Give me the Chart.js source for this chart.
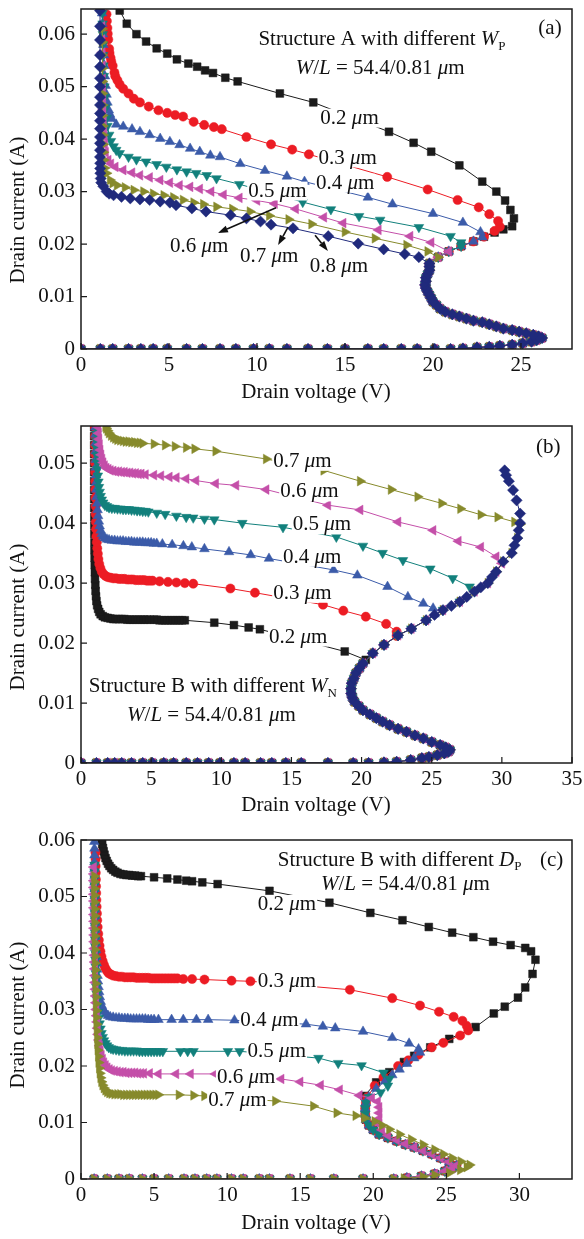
<!DOCTYPE html>
<html>
<head>
<meta charset="utf-8">
<script src="https://cdn.jsdelivr.net/npm/chart.js@4.4.0/dist/chart.umd.min.js"></script>
<style>
  html, body { margin: 0; padding: 0; background: #fff; }
  canvas { position: absolute; left: 0; }
</style>
</head>
<body>
<canvas id="panelA" width="584" height="410" style="top:0"></canvas>
<canvas id="panelB" width="584" height="410" style="top:410px"></canvas>
<canvas id="panelC" width="584" height="419" style="top:820px"></canvas>
<script>
// ---- panel (a): Structure A, different W_P  (points are [V, A], in measurement order)
const offA = [[0,0],[1.1,0],[1.8,0],[2.7,0],[3.4,0],[4.1,0],[4.9,0],[6.0,0],[6.9,0],[7.9,0],[8.8,0],[9.8,0],[10.7,0],[11.7,0],[12.9,0],[14.0,0],[15.0,0],[16.3,0],[17.2,0],[18.2,0],[19.1,0],[20.1,0],[21.0,0],[21.7,0.0001]];
const snapA = [[22.5,0.0003],[23.2,0.0004],[23.8,0.0006],[24.5,0.0008],[25.1,0.0011],[25.6,0.0014],[25.9,0.0017],[26.2,0.0021],[26.0,0.0024],[25.7,0.0027],[25.3,0.003],[24.9,0.0033],[24.5,0.0036],[24.0,0.0039],[23.6,0.0043],[23.2,0.0047],[22.8,0.0051],[22.3,0.0054],[21.9,0.0058],[21.5,0.0062],[21.1,0.0066],[20.7,0.0071],[20.4,0.0077],[20.2,0.0084],[20.0,0.009],[19.9,0.0097],[19.8,0.0103],[19.7,0.0109],[19.6,0.0116],[19.55,0.0122],[19.6,0.0129],[19.6,0.0136],[19.7,0.0143],[19.8,0.015],[19.8,0.0157],[19.8,0.0163]];
const a02 = [[20.3,0.0175],[20.9,0.0186],[21.6,0.0196],[22.3,0.0205],[22.9,0.0214],[23.5,0.0222],[24.0,0.0228],[24.5,0.0234],[24.6,0.0249],[24.4,0.0265],[24.1,0.0283],[23.6,0.03],[22.8,0.0319],[21.5,0.035],[19.9,0.0376],[18.9,0.0393],[17.5,0.0414],[13.2,0.047],[11.3,0.0487],[8.9,0.051],[8.2,0.0517],[7.5,0.0526],[7.05,0.0531],[6.6,0.0538],[6.1,0.0544],[5.45,0.0552],[4.9,0.0563],[4.3,0.0573],[3.7,0.0586],[3.15,0.06],[2.6,0.062],[2.2,0.0645]];
const a03 = [[20.3,0.0175],[20.9,0.0186],[21.6,0.0196],[22.3,0.0205],[22.9,0.0214],[23.5,0.0225],[23.8,0.0233],[23.7,0.0244],[23.2,0.0257],[22.6,0.027],[21.4,0.0284],[19.7,0.0304],[17.4,0.0328],[12.95,0.0371],[12.0,0.038],[10.8,0.039],[9.4,0.0404],[8.0,0.0419],[7.55,0.0423],[7.0,0.0427],[6.4,0.0433],[5.8,0.0443],[5.35,0.0446],[4.9,0.045],[4.4,0.0455],[3.85,0.0462],[3.35,0.047],[3.0,0.0477],[2.7,0.0487],[2.4,0.0496],[2.2,0.0504],[2.07,0.0512],[1.95,0.052],[1.9,0.0527],[1.8,0.054],[1.72,0.0548],[1.68,0.0555],[1.62,0.0564],[1.6,0.0572],[1.55,0.059],[1.52,0.0601],[1.5,0.0612],[1.47,0.0625],[1.45,0.0638]];
const a04 = [[20.3,0.0175],[20.9,0.0186],[21.6,0.0196],[22.3,0.0205],[22.8,0.0213],[22.7,0.0223],[21.7,0.0241],[20.0,0.0258],[17.7,0.0276],[16.3,0.0289],[12.7,0.0319],[11.7,0.0329],[10.45,0.034],[9.05,0.0353],[7.9,0.0366],[7.35,0.0369],[6.75,0.0376],[6.2,0.0382],[5.6,0.0389],[5.05,0.0395],[4.5,0.0401],[3.9,0.0408],[3.35,0.0414],[2.9,0.0419],[2.4,0.0424],[2.0,0.0428],[1.75,0.0439],[1.65,0.0447],[1.58,0.0455],[1.5,0.047],[1.45,0.0485],[1.4,0.0502],[1.36,0.052],[1.33,0.054],[1.3,0.056],[1.27,0.058],[1.25,0.06],[1.22,0.062],[1.2,0.064]];
const a05 = [[20.3,0.0175],[20.9,0.0186],[21.6,0.0196],[21.6,0.0203],[21.0,0.0215],[19.2,0.0232],[17.0,0.0246],[15.8,0.0253],[14.2,0.0266],[12.6,0.028],[9.0,0.0314],[7.7,0.0325],[7.15,0.0331],[6.55,0.0335],[6.0,0.0338],[5.45,0.0342],[4.85,0.0347],[4.3,0.0352],[3.7,0.0357],[3.15,0.0361],[2.7,0.0366],[2.2,0.0373],[2.0,0.0379],[1.85,0.0386],[1.7,0.0396],[1.6,0.0408],[1.5,0.0425],[1.45,0.044],[1.4,0.046],[1.36,0.048],[1.33,0.05],[1.3,0.052],[1.28,0.054],[1.26,0.056],[1.25,0.058],[1.24,0.06],[1.23,0.062],[1.22,0.064]];
const a06 = [[20.3,0.0175],[20.9,0.0186],[19.9,0.0203],[18.7,0.0215],[16.9,0.0227],[14.9,0.024],[13.8,0.0251],[12.2,0.0267],[11.0,0.0277],[10.0,0.0283],[9.0,0.0288],[8.1,0.0294],[7.4,0.03],[6.75,0.0305],[6.2,0.0309],[5.6,0.0312],[5.05,0.0317],[4.5,0.0322],[3.9,0.0327],[3.35,0.0331],[2.9,0.0336],[2.4,0.0341],[1.95,0.0347],[1.7,0.0353],[1.55,0.036],[1.4,0.0375],[1.35,0.039],[1.32,0.0405],[1.3,0.042],[1.28,0.0438],[1.26,0.0456],[1.25,0.0475],[1.24,0.0495],[1.23,0.0515],[1.22,0.054],[1.21,0.0565],[1.2,0.059],[1.2,0.0615]];
const a07 = [[20.3,0.0175],[19.7,0.0186],[18.5,0.0198],[16.7,0.0211],[15.0,0.0223],[13.1,0.0238],[11.8,0.0247],[10.7,0.0254],[9.6,0.0262],[8.6,0.0267],[7.7,0.0271],[6.95,0.0276],[6.4,0.0279],[5.8,0.0284],[5.25,0.0289],[4.7,0.0293],[4.1,0.0296],[3.55,0.03],[3.0,0.0303],[2.5,0.0308],[2.05,0.0312],[1.8,0.0316],[1.65,0.0322],[1.45,0.0335],[1.35,0.0345],[1.3,0.036],[1.28,0.0375],[1.26,0.039],[1.25,0.0408],[1.24,0.0425],[1.23,0.0445],[1.23,0.0465],[1.22,0.0487],[1.22,0.051],[1.21,0.0535],[1.21,0.056],[1.2,0.0585],[1.2,0.061]];
const a08 = [[19.2,0.0175],[18.4,0.0181],[17.2,0.019],[15.75,0.0201],[14.05,0.0215],[12.05,0.023],[10.8,0.0237],[10.2,0.0243],[9.4,0.0249],[8.5,0.0255],[7.1,0.0262],[6.3,0.0268],[5.4,0.0274],[5.05,0.0279],[4.5,0.0281],[3.9,0.0284],[3.35,0.0285],[2.8,0.0287],[2.3,0.029],[1.85,0.0293],[1.6,0.0296],[1.46,0.03],[1.27,0.031],[1.15,0.0317],[1.12,0.0325],[1.1,0.0335],[1.09,0.0344],[1.09,0.0354],[1.08,0.0366],[1.08,0.0379],[1.08,0.0392],[1.08,0.0404],[1.08,0.042],[1.08,0.0435],[1.08,0.0449],[1.08,0.0465],[1.08,0.048],[1.08,0.05],[1.08,0.0516],[1.08,0.0538],[1.08,0.056],[1.08,0.0589],[1.08,0.0615],[1.08,0.0645]];

// ---- panel (b): Structure B, different W_N
const offB = [[0,0],[1.1,0],[1.9,0],[2.4,0],[2.9,0],[3.6,0],[4.4,0],[5.1,0],[5.9,0],[6.6,0],[7.5,0],[8.3,0],[9.1,0],[9.9,0],[10.9,0],[11.7,0],[12.8,0],[13.6,0],[14.6,0],[15.7,0],[17.6,0],[19.4,0],[20.5,0],[21.6,0.0001]];
const snapB = [[22.5,0.0002],[23.5,0.0005],[24.3,0.0008],[24.8,0.001],[25.4,0.0013],[25.9,0.0016],[26.2,0.0019],[26.3,0.0022],[26.0,0.0026],[25.6,0.003],[25.0,0.0035],[24.4,0.0041],[23.8,0.0046],[23.2,0.0052],[22.6,0.0057],[22.0,0.0063],[21.5,0.0069],[21.05,0.0075],[20.6,0.0081],[20.1,0.0088],[19.8,0.0095],[19.5,0.0102],[19.35,0.0109],[19.26,0.0116],[19.25,0.0124],[19.3,0.0133],[19.45,0.0141],[19.6,0.015],[19.85,0.0158],[20.1,0.0166]];
const b02 = [[20.3,0.0172],[18.8,0.0186],[12.75,0.0223],[11.95,0.0226],[10.9,0.023],[9.5,0.0234],[7.4,0.0238],[7.2,0.0238],[7.0,0.0238],[6.8,0.0238],[6.6,0.0238],[6.4,0.0238],[6.2,0.0238],[6.0,0.0238],[5.8,0.0238],[5.6,0.0238],[5.4,0.0239],[5.2,0.0239],[4.9,0.0239],[4.7,0.0239],[4.5,0.0239],[4.3,0.0239],[4.1,0.0239],[3.9,0.0239],[3.7,0.0239],[3.5,0.0239],[3.3,0.0239],[3.1,0.024],[2.9,0.024],[2.7,0.024],[2.5,0.024],[2.3,0.024],[2.1,0.0241],[1.9,0.0242],[1.7,0.0243],[1.55,0.0245],[1.4,0.0248],[1.3,0.0252],[1.22,0.0257],[1.15,0.0263],[1.1,0.027],[1.07,0.0278],[1.04,0.0287],[1.02,0.0297],[1.0,0.0307],[0.99,0.0318],[0.98,0.033],[0.97,0.0342],[0.96,0.0355],[0.96,0.0368],[0.95,0.0382],[0.95,0.0396],[0.95,0.041],[0.94,0.0425],[0.94,0.044],[0.94,0.0455],[0.94,0.047],[0.94,0.0485],[0.94,0.05],[0.94,0.0515],[0.94,0.053],[0.94,0.0545],[0.94,0.056]];
const b03 = [[20.8,0.0183],[21.6,0.0197],[22.5,0.0212],[22.5,0.0219],[21.75,0.0232],[20.3,0.0244],[18.7,0.0254],[17.25,0.0264],[12.4,0.0284],[10.65,0.0291],[8.0,0.0299],[7.4,0.03],[6.8,0.0301],[6.2,0.0302],[5.6,0.0303],[5.1,0.0304],[4.9,0.0304],[4.7,0.0304],[4.5,0.0305],[4.3,0.0305],[4.1,0.0305],[3.9,0.0305],[3.7,0.0306],[3.5,0.0306],[3.3,0.0306],[3.1,0.0307],[2.9,0.0307],[2.7,0.0307],[2.5,0.0308],[2.3,0.0308],[2.1,0.0309],[1.9,0.031],[1.75,0.0312],[1.6,0.0315],[1.48,0.0319],[1.38,0.0325],[1.3,0.0332],[1.24,0.034],[1.2,0.0349],[1.16,0.0358],[1.13,0.0368],[1.1,0.0378],[1.08,0.039],[1.06,0.0402],[1.05,0.0415],[1.04,0.0428],[1.03,0.0442],[1.02,0.0456],[1.02,0.047],[1.01,0.0485],[1.01,0.05],[1.0,0.0515],[1.0,0.053],[1.0,0.0545],[1.0,0.056]];
const b04 = [[20.8,0.0183],[21.6,0.0197],[22.6,0.0213],[23.55,0.0224],[24.6,0.0238],[25.2,0.0248],[25.1,0.0258],[24.4,0.0266],[23.3,0.0277],[21.85,0.0294],[19.7,0.0313],[18.0,0.0322],[13.4,0.0341],[12.1,0.0347],[10.55,0.0352],[8.8,0.0357],[7.9,0.036],[7.3,0.0362],[6.5,0.0364],[5.8,0.0365],[5.4,0.0366],[5.2,0.0366],[5.0,0.0367],[4.8,0.0367],[4.6,0.0367],[4.4,0.0368],[4.2,0.0368],[4.0,0.0368],[3.8,0.0368],[3.6,0.0369],[3.4,0.0369],[3.2,0.0369],[3.0,0.037],[2.8,0.037],[2.6,0.037],[2.4,0.0371],[2.2,0.0371],[2.0,0.0372],[1.85,0.0373],[1.7,0.0375],[1.58,0.0378],[1.48,0.0382],[1.4,0.0388],[1.33,0.0395],[1.27,0.0403],[1.22,0.0412],[1.18,0.0422],[1.15,0.0433],[1.12,0.0444],[1.1,0.0456],[1.08,0.0468],[1.07,0.048],[1.06,0.0493],[1.05,0.0506],[1.04,0.052],[1.04,0.0534],[1.03,0.0548],[1.03,0.056]];
const b05 = [[20.8,0.0183],[21.6,0.0197],[22.6,0.0213],[23.55,0.0224],[24.6,0.0238],[25.8,0.0255],[27.0,0.0269],[28.05,0.0286],[27.7,0.0294],[26.5,0.0308],[24.9,0.0324],[22.95,0.0338],[21.5,0.035],[20.1,0.0362],[18.2,0.0377],[14.4,0.0393],[11.5,0.04],[9.5,0.0406],[8.8,0.0407],[8.0,0.0409],[7.5,0.041],[6.8,0.0412],[6.0,0.0415],[5.4,0.0417],[4.8,0.0419],[4.6,0.042],[4.4,0.042],[4.2,0.0421],[4.0,0.0421],[3.8,0.0422],[3.6,0.0422],[3.4,0.0423],[3.2,0.0423],[3.0,0.0423],[2.8,0.0424],[2.6,0.0424],[2.4,0.0425],[2.2,0.0425],[2.0,0.0426],[1.85,0.0428],[1.7,0.043],[1.58,0.0434],[1.48,0.0439],[1.4,0.0445],[1.33,0.0452],[1.28,0.046],[1.24,0.0469],[1.2,0.0479],[1.17,0.049],[1.15,0.0501],[1.13,0.0513],[1.12,0.0525],[1.11,0.0537],[1.1,0.0549],[1.1,0.056]];
const b06 = [[20.8,0.0183],[21.6,0.0197],[22.6,0.0213],[23.55,0.0224],[24.6,0.0238],[25.8,0.0255],[27.0,0.0269],[28.05,0.0286],[29.0,0.03],[29.6,0.0319],[30.0,0.0333],[29.6,0.0344],[28.5,0.036],[26.9,0.037],[25.1,0.0388],[22.6,0.0402],[19.9,0.0422],[17.6,0.043],[13.2,0.0456],[11.05,0.0463],[9.6,0.0466],[8.2,0.0471],[7.5,0.0474],[6.8,0.0476],[6.3,0.0477],[5.7,0.0479],[5.2,0.048],[4.6,0.0481],[4.3,0.0482],[4.1,0.0482],[3.9,0.0483],[3.7,0.0483],[3.5,0.0484],[3.3,0.0484],[3.1,0.0485],[2.9,0.0485],[2.7,0.0486],[2.5,0.0486],[2.3,0.0487],[2.1,0.0488],[1.95,0.049],[1.8,0.0492],[1.68,0.0496],[1.58,0.0501],[1.5,0.0507],[1.43,0.0514],[1.37,0.0522],[1.32,0.0531],[1.28,0.054],[1.25,0.055],[1.22,0.056]];
const b07 = [[20.8,0.0183],[21.6,0.0197],[22.6,0.0213],[23.55,0.0224],[24.6,0.0238],[25.8,0.0255],[27.0,0.0269],[28.05,0.0286],[29.0,0.03],[29.6,0.0319],[30.1,0.0336],[30.7,0.035],[31.1,0.0375],[31.3,0.0398],[30.9,0.0402],[29.7,0.041],[28.5,0.0414],[27.05,0.0424],[25.7,0.0433],[24.0,0.0444],[22.1,0.0456],[19.9,0.047],[17.3,0.0488],[13.2,0.0507],[9.6,0.052],[8.1,0.0524],[7.5,0.0526],[6.7,0.0528],[6.0,0.053],[5.2,0.0532],[4.4,0.0533],[4.2,0.0534],[4.0,0.0534],[3.8,0.0535],[3.6,0.0535],[3.4,0.0536],[3.2,0.0536],[3.0,0.0537],[2.8,0.0538],[2.6,0.0539],[2.45,0.0541],[2.3,0.0543],[2.15,0.0546],[2.0,0.055],[1.9,0.0554],[1.8,0.0558],[1.75,0.0561]];
const b08 = [[20.8,0.0183],[21.6,0.0197],[22.6,0.0213],[23.55,0.0224],[24.6,0.0238],[25.2,0.0247],[25.8,0.0255],[26.4,0.0262],[27.0,0.0269],[27.5,0.0277],[28.05,0.0286],[28.5,0.0293],[29.0,0.03],[29.3,0.031],[29.6,0.0319],[30.1,0.0336],[30.7,0.035],[30.9,0.0363],[31.1,0.0375],[31.2,0.0388],[31.3,0.04],[31.3,0.0416],[31.05,0.0438],[30.8,0.0455],[30.5,0.047],[30.3,0.048],[30.2,0.0488]];

// ---- panel (c): Structure B, different D_P
const offC = [[0.9,0],[1.8,0],[2.6,0],[3.3,0],[4.2,0],[5.0,0],[6.0,0],[7.05,0],[7.8,0],[8.6,0],[9.3,0],[10.3,0],[11.1,0],[12.2,0],[12.9,0],[14.3,0],[15.7,0],[17.3,0],[19.3,0],[21.4,0]];
const snapC = [[22.3,0.0002],[23.3,0.0005],[24.2,0.0009],[24.9,0.0014],[25.4,0.0019],[25.7,0.0024],[25.2,0.003],[24.6,0.0037],[24.0,0.0044],[23.4,0.005],[22.8,0.0056],[22.2,0.0061],[21.6,0.0067],[21.0,0.0073],[20.4,0.0079],[20.0,0.0087],[19.7,0.0095],[19.5,0.0105],[19.45,0.0115],[19.45,0.0125],[19.5,0.0135]];
const c02 = [[19.4,0.0147],[20.2,0.0171],[21.1,0.0189],[22.1,0.0207],[22.8,0.0218],[23.9,0.0233],[25.2,0.0248],[27.0,0.0269],[28.25,0.0293],[29.0,0.0305],[29.9,0.0321],[30.4,0.0339],[30.9,0.0363],[31.1,0.0388],[30.8,0.0403],[30.4,0.0409],[29.4,0.0414],[28.2,0.042],[26.85,0.0428],[25.4,0.0436],[23.8,0.0446],[22.0,0.0458],[19.8,0.0471],[17.0,0.0489],[12.9,0.051],[9.35,0.0522],[8.3,0.0525],[7.6,0.0527],[7.2,0.0528],[6.6,0.053],[5.9,0.0532],[5.0,0.0534],[4.1,0.0536],[3.9,0.0536],[3.7,0.0537],[3.5,0.0537],[3.3,0.0538],[3.1,0.0538],[2.9,0.0539],[2.7,0.054],[2.5,0.0542],[2.35,0.0544],[2.2,0.0547],[2.07,0.055],[1.95,0.0554],[1.85,0.0558],[1.76,0.0563],[1.68,0.0568],[1.61,0.0574],[1.55,0.058],[1.5,0.0586],[1.45,0.0593],[1.41,0.06]];
const c03 = [[19.6,0.0145],[20.1,0.0165],[20.7,0.018],[21.7,0.02],[22.4,0.021],[23.1,0.022],[24.0,0.0233],[24.8,0.0241],[25.95,0.0254],[26.5,0.0263],[26.4,0.0271],[26.1,0.028],[25.5,0.0287],[24.5,0.0296],[23.2,0.0307],[21.3,0.032],[18.4,0.0335],[11.6,0.035],[10.3,0.0351],[8.45,0.0353],[7.6,0.0354],[7.0,0.0354],[6.6,0.0355],[6.4,0.0355],[6.2,0.0355],[6.0,0.0355],[5.8,0.0355],[5.6,0.0355],[5.4,0.0355],[5.2,0.0355],[5.0,0.0355],[4.8,0.0355],[4.6,0.0356],[4.4,0.0356],[4.2,0.0356],[4.0,0.0356],[3.8,0.0356],[3.6,0.0357],[3.4,0.0357],[3.2,0.0357],[3.0,0.0357],[2.8,0.0358],[2.6,0.0358],[2.4,0.0359],[2.2,0.036],[2.05,0.0362],[1.9,0.0364],[1.78,0.0368],[1.67,0.0373],[1.57,0.0379],[1.48,0.0386],[1.4,0.0394],[1.33,0.0403],[1.27,0.0413],[1.22,0.0423],[1.18,0.0434],[1.14,0.0446],[1.11,0.0458],[1.09,0.047],[1.07,0.0482],[1.05,0.0494],[1.04,0.0506],[1.03,0.0518],[1.02,0.053],[1.01,0.0542],[1.0,0.0554],[1.0,0.0566],[0.99,0.0578]];
const c04 = [[19.7,0.0145],[20.2,0.016],[20.8,0.0173],[21.3,0.0184],[21.8,0.0194],[22.3,0.0204],[22.8,0.0214],[23.2,0.0224],[23.1,0.023],[22.45,0.024],[21.3,0.025],[19.3,0.0261],[17.4,0.0267],[16.55,0.027],[15.4,0.0274],[10.5,0.0281],[8.7,0.0282],[7.9,0.0282],[7.0,0.0282],[6.2,0.0282],[5.3,0.0282],[5.0,0.0282],[4.8,0.0282],[4.6,0.0282],[4.4,0.0283],[4.2,0.0283],[4.0,0.0283],[3.8,0.0283],[3.6,0.0283],[3.4,0.0283],[3.2,0.0284],[3.0,0.0284],[2.8,0.0284],[2.6,0.0285],[2.4,0.0285],[2.2,0.0286],[2.0,0.0287],[1.85,0.0289],[1.72,0.0292],[1.6,0.0296],[1.5,0.0301],[1.42,0.0307],[1.35,0.0314],[1.29,0.0322],[1.24,0.0331],[1.2,0.034],[1.16,0.035],[1.13,0.036],[1.1,0.0371],[1.08,0.0382],[1.06,0.0393],[1.04,0.0405],[1.02,0.0417],[1.0,0.0429],[0.99,0.0441],[0.98,0.0453],[0.97,0.0465],[0.96,0.0477],[0.95,0.0489],[0.94,0.0501],[0.94,0.0513],[0.93,0.0525],[0.93,0.0537],[0.92,0.0549],[0.92,0.0561],[0.92,0.0573],[0.92,0.0585],[0.91,0.0597]];
const c05 = [[19.7,0.0145],[20.5,0.0153],[21.0,0.0165],[21.1,0.0177],[20.7,0.0188],[19.2,0.0201],[17.6,0.0205],[16.25,0.0214],[10.85,0.0226],[10.05,0.0226],[7.7,0.0226],[7.3,0.0226],[6.8,0.0226],[5.6,0.0226],[5.4,0.0226],[5.2,0.0226],[5.0,0.0226],[4.8,0.0226],[4.6,0.0226],[4.4,0.0226],[4.2,0.0226],[4.0,0.0226],[3.8,0.0227],[3.6,0.0227],[3.4,0.0227],[3.2,0.0227],[3.0,0.0227],[2.8,0.0228],[2.6,0.0228],[2.4,0.0229],[2.2,0.023],[2.05,0.0231],[1.9,0.0233],[1.78,0.0236],[1.67,0.024],[1.57,0.0245],[1.48,0.0251],[1.4,0.0258],[1.33,0.0266],[1.27,0.0275],[1.22,0.0285],[1.17,0.0295],[1.13,0.0306],[1.1,0.0317],[1.07,0.0328],[1.05,0.034],[1.03,0.0352],[1.01,0.0364],[1.0,0.0376],[0.99,0.0388],[0.98,0.04],[0.97,0.0412],[0.96,0.0424],[0.96,0.0436],[0.95,0.0448],[0.95,0.046],[0.94,0.0472],[0.94,0.0484],[0.94,0.0496],[0.93,0.0508],[0.93,0.052],[0.93,0.0532],[0.93,0.0544],[0.93,0.0556]];
const c06 = [[22.3,0.0002],[23.3,0.0005],[24.2,0.0009],[24.9,0.0014],[25.4,0.0019],[25.7,0.0024],[25.2,0.003],[24.6,0.0037],[24.0,0.0044],[23.4,0.005],[22.8,0.0056],[22.2,0.0062],[21.6,0.0069],[21.0,0.0077],[20.6,0.0087],[20.4,0.0097],[20.4,0.0107],[20.4,0.0117],[20.4,0.0127],[20.3,0.0137],[19.9,0.0143],[19.05,0.0148],[17.7,0.0158],[16.4,0.0166],[15.0,0.0172],[13.7,0.0177],[9.2,0.0186],[7.5,0.0186],[6.5,0.0186],[5.3,0.0186],[4.7,0.0187],[4.3,0.0187],[4.1,0.0187],[3.9,0.0187],[3.7,0.0188],[3.5,0.0188],[3.3,0.0188],[3.1,0.0188],[2.9,0.0189],[2.7,0.0189],[2.5,0.019],[2.3,0.0191],[2.1,0.0192],[1.95,0.0194],[1.8,0.0197],[1.68,0.0201],[1.57,0.0206],[1.48,0.0212],[1.4,0.0219],[1.33,0.0227],[1.27,0.0236],[1.22,0.0246],[1.17,0.0256],[1.13,0.0267],[1.1,0.0278],[1.07,0.0289],[1.04,0.03],[1.02,0.0312],[1.0,0.0324],[0.98,0.0336],[0.96,0.0348],[0.95,0.036],[0.94,0.0372],[0.93,0.0384],[0.92,0.0396],[0.91,0.0408],[0.9,0.042],[0.9,0.0432],[0.89,0.0444],[0.89,0.0456],[0.88,0.0468],[0.88,0.048],[0.88,0.0492],[0.87,0.0504],[0.87,0.0516],[0.87,0.0528],[0.87,0.054],[0.87,0.0552]];
const c07 = [[22.1,0.0001],[23.4,0.0004],[24.2,0.0007],[25.2,0.0011],[25.95,0.0016],[26.4,0.0021],[26.6,0.0025],[26.0,0.0031],[25.4,0.0037],[24.8,0.0044],[24.2,0.0052],[23.4,0.0061],[22.6,0.007],[21.8,0.0079],[21.1,0.0088],[20.6,0.0095],[20.1,0.0102],[19.4,0.0108],[18.8,0.0112],[17.5,0.0117],[15.9,0.0129],[13.3,0.0138],[8.45,0.0147],[7.7,0.0148],[6.7,0.0149],[5.3,0.0149],[5.1,0.0149],[4.9,0.0149],[4.7,0.0149],[4.5,0.0149],[4.3,0.0149],[4.1,0.0149],[3.9,0.0149],[3.7,0.0149],[3.5,0.0149],[3.3,0.0149],[3.1,0.0149],[2.9,0.0149],[2.7,0.015],[2.5,0.015],[2.3,0.015],[2.1,0.0151],[1.95,0.0152],[1.8,0.0154],[1.68,0.0157],[1.57,0.0161],[1.48,0.0166],[1.4,0.0172],[1.34,0.0179],[1.29,0.0187],[1.25,0.0196],[1.21,0.0206],[1.18,0.0217],[1.15,0.0228],[1.13,0.0239],[1.11,0.025],[1.09,0.0262],[1.07,0.0274],[1.05,0.0286],[1.04,0.0298],[1.03,0.031],[1.02,0.0322],[1.01,0.0334],[1.0,0.0346],[0.99,0.0358],[0.98,0.037],[0.97,0.0382],[0.96,0.0394],[0.95,0.0406],[0.95,0.0418],[0.94,0.043],[0.94,0.0442],[0.93,0.0454],[0.93,0.0466],[0.93,0.0478],[0.92,0.049],[0.92,0.0502],[0.92,0.0514],[0.92,0.0526],[0.92,0.0536]];

const FAM = '"Liberation Serif", "Times New Roman", serif';
const STYLES = [
  { color: '#1b1b1b', style: 'rect', radius: 5.5, rot: 0 },
  { color: '#ec1c24', style: 'circle', radius: 4.6, rot: 0 },
  { color: '#3b5ba9', style: 'triangle', radius: 5.6, rot: 0 },
  { color: '#12807c', style: 'triangle', radius: 5.6, rot: 180 },
  { color: '#c44fa9', style: 'triangle', radius: 5.6, rot: 270 },
  { color: '#878a2c', style: 'triangle', radius: 5.6, rot: 90 },
  { color: '#202a7c', style: 'rectRot', radius: 5.6, rot: 0 },
];

const um = v => [[v + ' ', 'n'], ['\u03bc', 'i'], ['m', 'n']];
const WL = [['W', 'i'], ['/', 'n'], ['L', 'i'], [' = 54.4/0.81 ', 'n'], ['\u03bc', 'i'], ['m', 'n']];

function drawRich(ctx, segs, x, y, size, align, bg) {
  const fonts = { n: `${size}px ${FAM}`, i: `italic ${size}px ${FAM}`, s: `${Math.round(size * 0.62)}px ${FAM}` };
  const widths = segs.map(([t, s]) => { ctx.font = fonts[s]; return ctx.measureText(t).width; });
  const total = widths.reduce((a, b) => a + b, 0);
  let x0 = align === 'center' ? x - total / 2 : x;
  if (bg) {
    ctx.fillStyle = '#fff';
    ctx.fillRect(x0 - 1, y - size * 0.45, total + 2, size * 0.9);
  }
  ctx.fillStyle = '#111';
  ctx.textAlign = 'left';
  ctx.textBaseline = 'middle';
  segs.forEach(([t, s], i) => {
    ctx.font = fonts[s];
    ctx.fillText(t, x0, s === 's' ? y + size * 0.3 : y);
    x0 += widths[i];
  });
}

function drawArrow(ctx, x1, y1, x2, y2) {
  const a = Math.atan2(y2 - y1, x2 - x1), c = Math.cos(a), s = Math.sin(a);
  const L = 10, W = 3.5;
  ctx.strokeStyle = '#111';
  ctx.fillStyle = '#111';
  ctx.lineWidth = 1.6;
  ctx.beginPath();
  ctx.moveTo(x1, y1);
  ctx.lineTo(x2 - L * c, y2 - L * s);
  ctx.stroke();
  ctx.beginPath();
  ctx.moveTo(x2, y2);
  ctx.lineTo(x2 - L * c + W * s, y2 - L * s - W * c);
  ctx.lineTo(x2 - L * c - W * s, y2 - L * s + W * c);
  ctx.closePath();
  ctx.fill();
}

const decor = {
  id: 'decor',
  afterDatasetsDraw(chart, args, o) {
    const { ctx, scales: { x, y } } = chart;
    ctx.save();
    o.notes.forEach(n => drawRich(ctx, n.segs, x.getPixelForValue(n.x), y.getPixelForValue(n.y), 21, n.align || 'left', n.bg !== false));
    (o.arrows || []).forEach(a => drawArrow(ctx, x.getPixelForValue(a[0]), y.getPixelForValue(a[1]), x.getPixelForValue(a[2]), y.getPixelForValue(a[3])));
    ctx.restore();
  },
  afterDraw(chart, args, o) {
    const { ctx, chartArea: a, scales: { x, y } } = chart;
    ctx.save();
    ctx.strokeStyle = '#1a1a1a';
    ctx.lineWidth = 1.5;
    ctx.strokeRect(a.left, a.top, a.right - a.left, a.bottom - a.top);
    ctx.lineWidth = 1.2;
    ctx.beginPath();
    x.ticks.forEach(t => { const p = x.getPixelForValue(t.value); ctx.moveTo(p, a.bottom); ctx.lineTo(p, a.bottom - 6); });
    y.ticks.forEach(t => { const p = y.getPixelForValue(t.value); ctx.moveTo(a.left, p); ctx.lineTo(a.left + 6, p); });
    ctx.stroke();
    ctx.fillStyle = '#111';
    ctx.font = `21px ${FAM}`;
    ctx.textAlign = 'center';
    ctx.textBaseline = 'middle';
    ctx.fillText('Drain voltage (V)', o.xTitle[0], o.xTitle[1]);
    ctx.translate(o.yTitle[0], o.yTitle[1]);
    ctx.rotate(-Math.PI / 2);
    ctx.fillText('Drain current (A)', 0, 0);
    ctx.restore();
  }
};

function makeChart(id, curves, p) {
  const datasets = curves.map((pts, i) => {
    const s = STYLES[i];
    return {
      data: pts.map(([x, y]) => ({ x, y })),
      showLine: true,
      borderColor: s.color,
      borderWidth: 1,
      backgroundColor: s.color,
      pointBackgroundColor: s.color,
      pointBorderColor: s.color,
      pointBorderWidth: 0.5,
      pointRadius: s.radius,
      pointStyle: s.style,
      pointRotation: s.rot,
      order: 10 - i,
    };
  });
  const tickFont = { family: FAM, size: 21 };
  return new Chart(document.getElementById(id), {
    type: 'scatter',
    data: { datasets },
    options: {
      responsive: false,
      animation: false,
      layout: { padding: { left: 0, right: 12, top: p.top, bottom: 0 } },
      plugins: { legend: { display: false }, tooltip: { enabled: false }, decor: p },
      scales: {
        x: {
          type: 'linear', min: 0, max: p.xMax,
          afterFit: s => { s.height = p.axisH; s.paddingLeft = 0; s.paddingRight = 0; },
          grid: { display: false, drawTicks: false },
          border: { display: false },
          ticks: { stepSize: 5, includeBounds: false, padding: 4, color: '#111', font: tickFont, maxRotation: 0 },
        },
        y: {
          type: 'linear', min: 0, max: p.yMax,
          afterFit: s => { s.width = 81; s.paddingTop = 0; s.paddingBottom = 0; },
          grid: { display: false, drawTicks: false },
          border: { display: false },
          ticks: { stepSize: 0.01, includeBounds: false, padding: 6, color: '#111', font: tickFont,
                   callback: v => (v === 0 ? '0' : v.toFixed(2)) },
        },
      },
    },
    plugins: [decor],
  });
}

makeChart('panelA', [
  [...offA, ...snapA, ...a02], [...offA, ...snapA, ...a03], [...offA, ...snapA, ...a04],
  [...offA, ...snapA, ...a05], [...offA, ...snapA, ...a06], [...offA, ...snapA, ...a07],
  [...offA, ...snapA, ...a08],
], {
  top: 9, axisH: 61, xMax: 27.9, yMax: 0.0648,
  xTitle: [316, 392], yTitle: [18, 210],
  notes: [
    { x: 13.6, y: 0.044, segs: um('0.2') },
    { x: 13.5, y: 0.0364, segs: um('0.3') },
    { x: 13.35, y: 0.0316, segs: um('0.4') },
    { x: 9.5, y: 0.0301, segs: um('0.5') },
    { x: 5.06, y: 0.0196, segs: um('0.6') },
    { x: 9.03, y: 0.0177, segs: um('0.7') },
    { x: 13.0, y: 0.0158, segs: um('0.8') },
    { x: 17.1, y: 0.0589, segs: [['Structure A with different ', 'n'], ['W', 'i'], ['P', 's']], align: 'center', bg: false },
    { x: 17.0, y: 0.0535, segs: WL, align: 'center', bg: false },
    { x: 26.65, y: 0.061, segs: [['(a)', 'n']], align: 'center', bg: false },
  ],
  arrows: [[11.08, 0.0269, 7.78, 0.0221], [11.76, 0.0232, 11.2, 0.0198], [13.3, 0.0217, 14.03, 0.0187]],
});

makeChart('panelB', [
  [...offB, ...snapB, ...b02], [...offB, ...snapB, ...b03], [...offB, ...snapB, ...b04],
  [...offB, ...snapB, ...b05], [...offB, ...snapB, ...b06], [...offB, ...snapB, ...b07],
  [...offB, ...snapB, ...b08],
], {
  top: 16, axisH: 57, xMax: 35, yMax: 0.0562,
  xTitle: [316, 395], yTitle: [18, 207],
  notes: [
    { x: 13.7, y: 0.0503, segs: um('0.7') },
    { x: 14.2, y: 0.0452, segs: um('0.6') },
    { x: 15.1, y: 0.0397, segs: um('0.5') },
    { x: 14.4, y: 0.0343, segs: um('0.4') },
    { x: 13.7, y: 0.0283, segs: um('0.3') },
    { x: 13.4, y: 0.021, segs: um('0.2') },
    { x: 9.4, y: 0.0127, segs: [['Structure B with different ', 'n'], ['W', 'i'], ['N', 's']], align: 'center', bg: false },
    { x: 9.3, y: 0.008, segs: WL, align: 'center', bg: false },
    { x: 33.3, y: 0.0527, segs: [['(b)', 'n']], align: 'center', bg: false },
  ],
});

makeChart('panelC', [
  [...offC, ...snapC, ...c02], [...offC, ...snapC, ...c03], [...offC, ...snapC, ...c04],
  [...offC, ...snapC, ...c05], [...offC, ...c06], [...offC, ...c07],
], {
  top: 20, axisH: 60, xMax: 33.6, yMax: 0.06,
  xTitle: [316, 403], yTitle: [18, 195],
  notes: [
    { x: 12.1, y: 0.0486, segs: um('0.2') },
    { x: 12.1, y: 0.035, segs: um('0.3') },
    { x: 10.9, y: 0.028, segs: um('0.4') },
    { x: 11.4, y: 0.0225, segs: um('0.5') },
    { x: 9.3, y: 0.018, segs: um('0.6') },
    { x: 8.7, y: 0.0139, segs: um('0.7') },
    { x: 21.8, y: 0.0564, segs: [['Structure B with different ', 'n'], ['D', 'i'], ['P', 's']], align: 'center', bg: false },
    { x: 32.2, y: 0.0564, segs: [['(c)', 'n']], align: 'center', bg: false },
    { x: 22.2, y: 0.0521, segs: WL, align: 'center', bg: false },
  ],
});
</script>
</body>
</html>
